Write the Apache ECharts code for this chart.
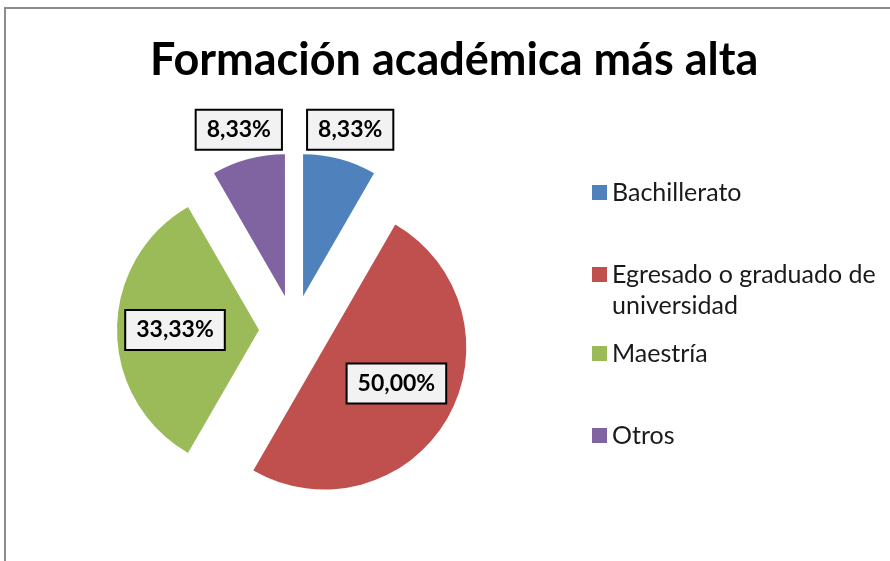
<!DOCTYPE html>
<html>
<head>
<meta charset="utf-8">
<script src="https://cdn.jsdelivr.net/npm/echarts@6/dist/echarts.min.js"></script>
<style>
  html, body { margin: 0; padding: 0; background: #fff; }
  #chart { width: 890px; height: 561px; }
</style>
</head>
<body>
<div id="chart"></div>
<script>
// datos del gráfico
const categorias = ["Bachillerato", "Egresado o graduado de universidad", "Maestría", "Otros"];
const porcentajes = [8.33, 50.00, 33.33, 8.33];
const colores = ["#4F81BD", "#C0504D", "#9BBB59", "#8064A2"];
const titulo = "Formación académica más alta";

// etiquetas de la leyenda (con salto de línea como en el original;
// la línea vacía inicial deja el marcador a la altura de la primera línea)
const textosLeyenda = ["Bachillerato", "\nEgresado o graduado de\nuniversidad", "Maestría", "Otros"];
const topsLeyenda = [177, 228, 338, 420];

// desplazamiento de cada etiqueta respecto a su posición "inside"
const desplEtiquetas = [[28, -95], [8, -1], [-10, 0], [-27, -95]];

const FUENTE = "Lato";

const chart = echarts.init(document.getElementById("chart"));

const datos = categorias.map((c, i) => ({
  name: c,
  value: porcentajes[i],
  selected: true,
  itemStyle: { color: colores[i] }
}));

const leyendas = categorias.map((c, i) => ({
  data: [c],
  orient: "vertical",
  left: 592,
  top: topsLeyenda[i],
  padding: 0,
  icon: "rect",
  itemWidth: 15,
  itemHeight: 15,
  itemGap: 0,
  selectedMode: false,
  formatter: () => textosLeyenda[i],
  textStyle: {
    fontFamily: FUENTE,
    fontSize: 25,
    color: "#1a1a1a",
    lineHeight: 31
  }
}));

chart.setOption({
  animation: false,
  title: {
    text: titulo,
    left: 150,
    top: 38,
    textStyle: {
      fontFamily: FUENTE,
      fontSize: 45,
      fontWeight: "bold",
      color: "#000"
    },
    padding: 0
  },
  legend: leyendas,
  graphic: [{
    type: "rect",
    shape: { x: 5, y: 8, width: 1000, height: 1000 },
    style: { fill: "none", stroke: "#8c8c8c", lineWidth: 2 },
    silent: true
  }],
  series: [{
    type: "pie",
    center: [294, 330],
    radius: [0, 142],
    startAngle: 90,
    clockwise: true,
    selectedMode: "multiple",
    selectedOffset: 35,
    avoidLabelOverlap: false,
    emphasis: { disabled: true },
    select: { itemStyle: {}, label: {} },
    label: {
      show: true,
      position: "inside",
      formatter: p => p.value.toFixed(2).replace(".", ",") + "%",
      fontFamily: FUENTE,
      fontSize: 23,
      fontWeight: "bold",
      lineHeight: 24,
      color: "#000",
      backgroundColor: "#f2f2f2",
      borderColor: "#000",
      borderWidth: 2,
      padding: [7, 10]
    },
    labelLine: { show: false },
    labelLayout: p => ({ dx: desplEtiquetas[p.dataIndex][0], dy: desplEtiquetas[p.dataIndex][1] }),
    data: datos
  }]
});
</script>
</body>
</html>
